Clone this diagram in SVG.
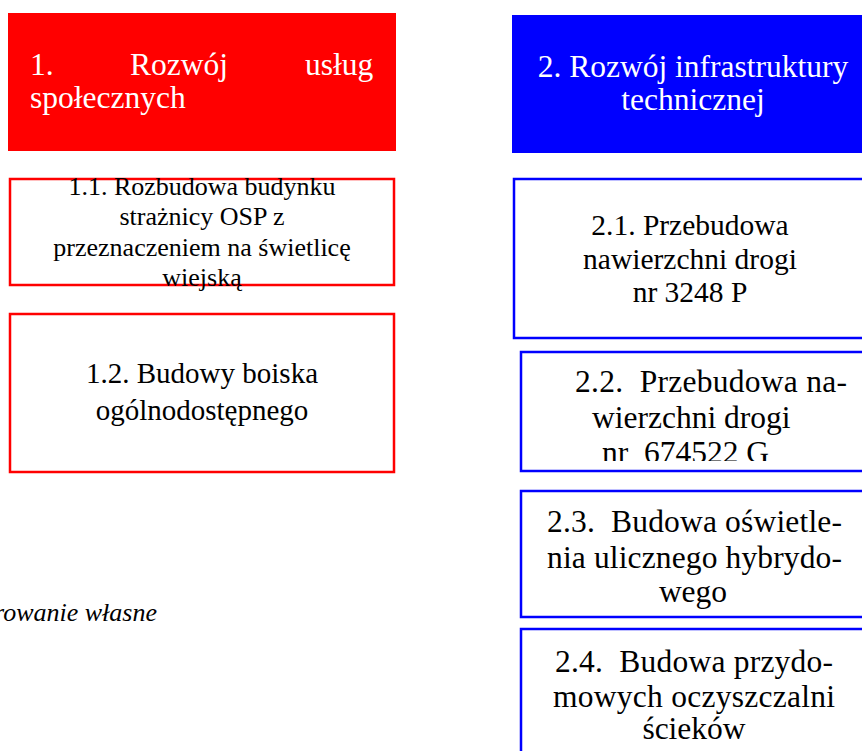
<svg xmlns="http://www.w3.org/2000/svg" width="862" height="751" viewBox="0 0 862 751">
<style>
.hdr{font-family:"Liberation Serif","Times New Roman",serif;font-size:31.5px;fill:#ffffff}
.t{font-family:"Liberation Serif","Times New Roman",serif;fill:#000000}
.rb{fill:#ffffff;stroke:#ff0000;stroke-width:2.5}
.bb{fill:#ffffff;stroke:#0000ff;stroke-width:2.5}
.foot{font-family:"Liberation Serif","Times New Roman",serif;font-style:italic;font-size:26px;fill:#000000}
</style>
<defs>
<clipPath id="clip22"><rect x="521" y="352" width="341" height="109"/></clipPath>
</defs>
<rect width="862" height="751" fill="#ffffff"/>
<g id="connectors"></g>
<g id="n1">
<rect x="8" y="13" width="388" height="138" fill="#ff0000"/>
<text class="hdr" y="75"><tspan x="30">1.</tspan><tspan x="130">Rozwój</tspan><tspan x="305">usług</tspan></text>
<text class="hdr" x="30" y="108">społecznych</text>
</g>
<g id="n2">
<rect x="512" y="15" width="360" height="138" fill="#0000ff"/>
<text class="hdr" text-anchor="middle" x="693" y="77">2. Rozwój infrastruktury</text>
<text class="hdr" text-anchor="middle" x="693" y="110">technicznej</text>
</g>
<g id="n11">
<rect class="rb" x="10" y="179" width="384" height="106"/>
<text class="t" font-size="26" text-anchor="middle"><tspan x="202" y="195">1.1. Rozbudowa budynku</tspan><tspan x="202" y="225">strażnicy OSP z</tspan><tspan x="202" y="256">przeznaczeniem na świetlicę</tspan><tspan x="202" y="286">wiejską</tspan></text>
</g>
<g id="n12">
<rect class="rb" x="10" y="314" width="384" height="158"/>
<text class="t" font-size="29" text-anchor="middle"><tspan x="202" y="383">1.2. Budowy boiska</tspan><tspan x="202" y="420">ogólnodostępnego</tspan></text>
</g>
<g id="n21">
<rect class="bb" x="514" y="179" width="360" height="159"/>
<text class="t" font-size="29.5" text-anchor="middle"><tspan x="690" y="235">2.1. Przebudowa</tspan><tspan x="690" y="269">nawierzchni drogi</tspan><tspan x="690" y="302">nr 3248 P</tspan></text>
</g>
<g id="n22">
<rect class="bb" x="521" y="352" width="350" height="119"/>
<g clip-path="url(#clip22)">
<text class="t" font-size="31.5" xml:space="preserve"><tspan x="575" y="392" textLength="272" lengthAdjust="spacing">2.2.  Przebudowa na-</tspan><tspan x="592" y="428">wierzchni drogi</tspan><tspan x="602" y="463">nr  674522 G</tspan></text>
</g>
</g>
<g id="n23">
<rect class="bb" x="521" y="491" width="350" height="126"/>
<text class="t" font-size="31.5" xml:space="preserve"><tspan x="547" y="532" textLength="295" lengthAdjust="spacing">2.3.  Budowa oświetle-</tspan><tspan x="547" y="568" textLength="295" lengthAdjust="spacing">nia ulicznego hybrydo-</tspan></text>
<text class="t" font-size="31.5" text-anchor="middle" x="693" y="602">wego</text>
</g>
<g id="n24">
<rect class="bb" x="521" y="629" width="350" height="140"/>
<text class="t" font-size="31.5" xml:space="preserve"><tspan x="555" y="672" textLength="278" lengthAdjust="spacing">2.4.  Budowa przydo-</tspan><tspan x="553" y="707" textLength="282" lengthAdjust="spacing">mowych oczyszczalni</tspan></text>
<text class="t" font-size="31.5" text-anchor="middle" x="694" y="739">ścieków</text>
</g>
<text class="foot" x="-6" y="621">rowanie własne</text>
</svg>
